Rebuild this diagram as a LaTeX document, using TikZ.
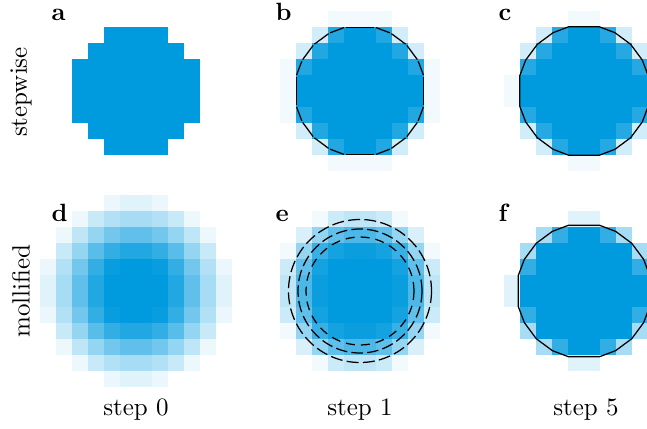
\documentclass[tikz,border=0pt]{standalone}
\usepackage{tikz}
\definecolor{cellblue}{RGB}{0,154,222}
\tikzset{
  contour/.style={black, line width=0.5pt, line join=round},
  gapedge/.style={contour, shorten >=#1, shorten <=#1},
  ring/.style={contour, dash pattern=#1},
  panellabel/.style={anchor=base west, inner sep=0pt, font=\bfseries},
  rowlabel/.style={rotate=90, inner sep=0pt},
  collabel/.style={anchor=base, inner sep=0pt},
}
% 12x12 grid of 16px cells, given by its top-left quadrant (6 rows of 6 values), mirrored
\newcommand\cellgrid[3]{%
  \foreach \row [count=\j from 0] in {#3} {
    \foreach \v [count=\i from 0] in \row {
      \ifnum\v>0
        \fill[cellblue!\v] ({#1+16*\i},{#2+16*\j}) rectangle ++(16.3,16.3);
        \fill[cellblue!\v] ({#1+16*(11-\i)},{#2+16*\j}) rectangle ++(16.3,16.3);
        \fill[cellblue!\v] ({#1+16*\i},{#2+16*(11-\j)}) rectangle ++(16.3,16.3);
        \fill[cellblue!\v] ({#1+16*(11-\i)},{#2+16*(11-\j)}) rectangle ++(16.3,16.3);
      \fi
    }
  }
}
\begin{document}
\begin{tikzpicture}[x=0.4pt, y=-0.4pt]
\useasboundingbox (0,0) rectangle (647,428);
\clip (0,0) rectangle (647,428);

% panel a
\cellgrid{40}{-5}{{0,0,0,0,0,0},{0,0,0,0,0,0},{0,0,0,0,100,100},{0,0,0,100,100,100},{0,0,100,100,100,100},{0,0,100,100,100,100}}
% panel b
\cellgrid{264}{-5}{{0,0,0,0,0,0},{0,0,0,0,5,5},{0,0,0,18,87,100},{0,0,18,87,100,100},{0,5,87,100,100,100},{0,5,100,100,100,100}}
% panel c
\cellgrid{488}{-5}{{0,0,0,0,0,0},{0,0,0,0,0,5},{0,0,0,18,85,100},{0,0,18,85,100,100},{0,0,85,100,100,100},{0,5,100,100,100,100}}
% panel d
\cellgrid{40}{195}{{0,0,0,0,8,12},{0,0,7,22,30,35},{0,7,25,42,55,62},{0,22,42,65,80,87},{8,30,55,80,97,100},{12,35,62,87,100,100}}
% panel e
\cellgrid{264}{195}{{0,0,0,0,0,0},{0,0,0,5,20,25},{0,0,15,42,62,70},{0,5,42,78,92,96},{0,20,62,92,100,100},{0,25,70,96,100,100}}
% panel f
\cellgrid{488}{195}{{0,0,0,0,0,0},{0,0,0,0,0,12},{0,0,0,35,80,100},{0,0,35,100,100,100},{0,0,80,100,100,100},{0,12,100,100,100,100}}

% contour b: polygon with small gaps at its vertices
\begin{scope}[shift={(360,91)}]
  \foreach \a/\b in {-13.5/13.5,13.5/28,28/45,45/62,62/76.5,76.5/103.5,103.5/118,118/135,135/152,152/166.5,166.5/193.5,193.5/208,208/225,225/242,242/256.5,256.5/283.5,283.5/298,298/315,315/332,332/346.5}
    \draw[gapedge=0.35pt] (\a:65.5) -- (\b:65.5);
\end{scope}
% contour c
\begin{scope}[shift={(584,91)}]
  \draw[contour] (13.5:66) \foreach \a in {28,45,62,76.5,103.5,118,135,152,166.5,193.5,208,225,242,256.5,283.5,298,315,332,346.5} { -- (\a:66) } -- cycle;
\end{scope}
% contours e
\begin{scope}[shift={(360,291)}]
  \draw[ring={on 4.8pt off 1.7pt}] (0,0) circle[radius=71.5];
  \draw[ring={on 4.6pt off 1.7pt}] (0,0) circle[radius=62];
  \draw[ring={on 3.6pt off 2.4pt}] (0,0) circle[radius=54];
\end{scope}
% contour f
\begin{scope}[shift={(584,291)}]
  \draw[contour] (13.5:67.5) \foreach \a in {28,45,62,76.5,103.5,118,135,152,166.5,193.5,208,225,242,256.5,283.5,298,315,332,346.5} { -- (\a:67.5) } -- cycle;
\end{scope}

% panel labels
\node[panellabel] (la) at (51,20) {a};
\node[panellabel] (lb) at (275,20) {b};
\node[panellabel] (lc) at (498,20) {c};
\node[panellabel] (ld) at (51,221) {d};
\node[panellabel] (le) at (275,221) {e};
\node[panellabel] (lf) at (498,221) {f};

% row labels
\node[rowlabel] (rs) at (21,92) {stepwise};
\node[rowlabel] (rm) at (21,291) {mollified};

% column labels
\node[collabel] (c0) at (136,415) {step 0};
\node[collabel] (c1) at (360,415) {step 1};
\node[collabel] (c5) at (586,415) {step 5};
\end{tikzpicture}
\end{document}
